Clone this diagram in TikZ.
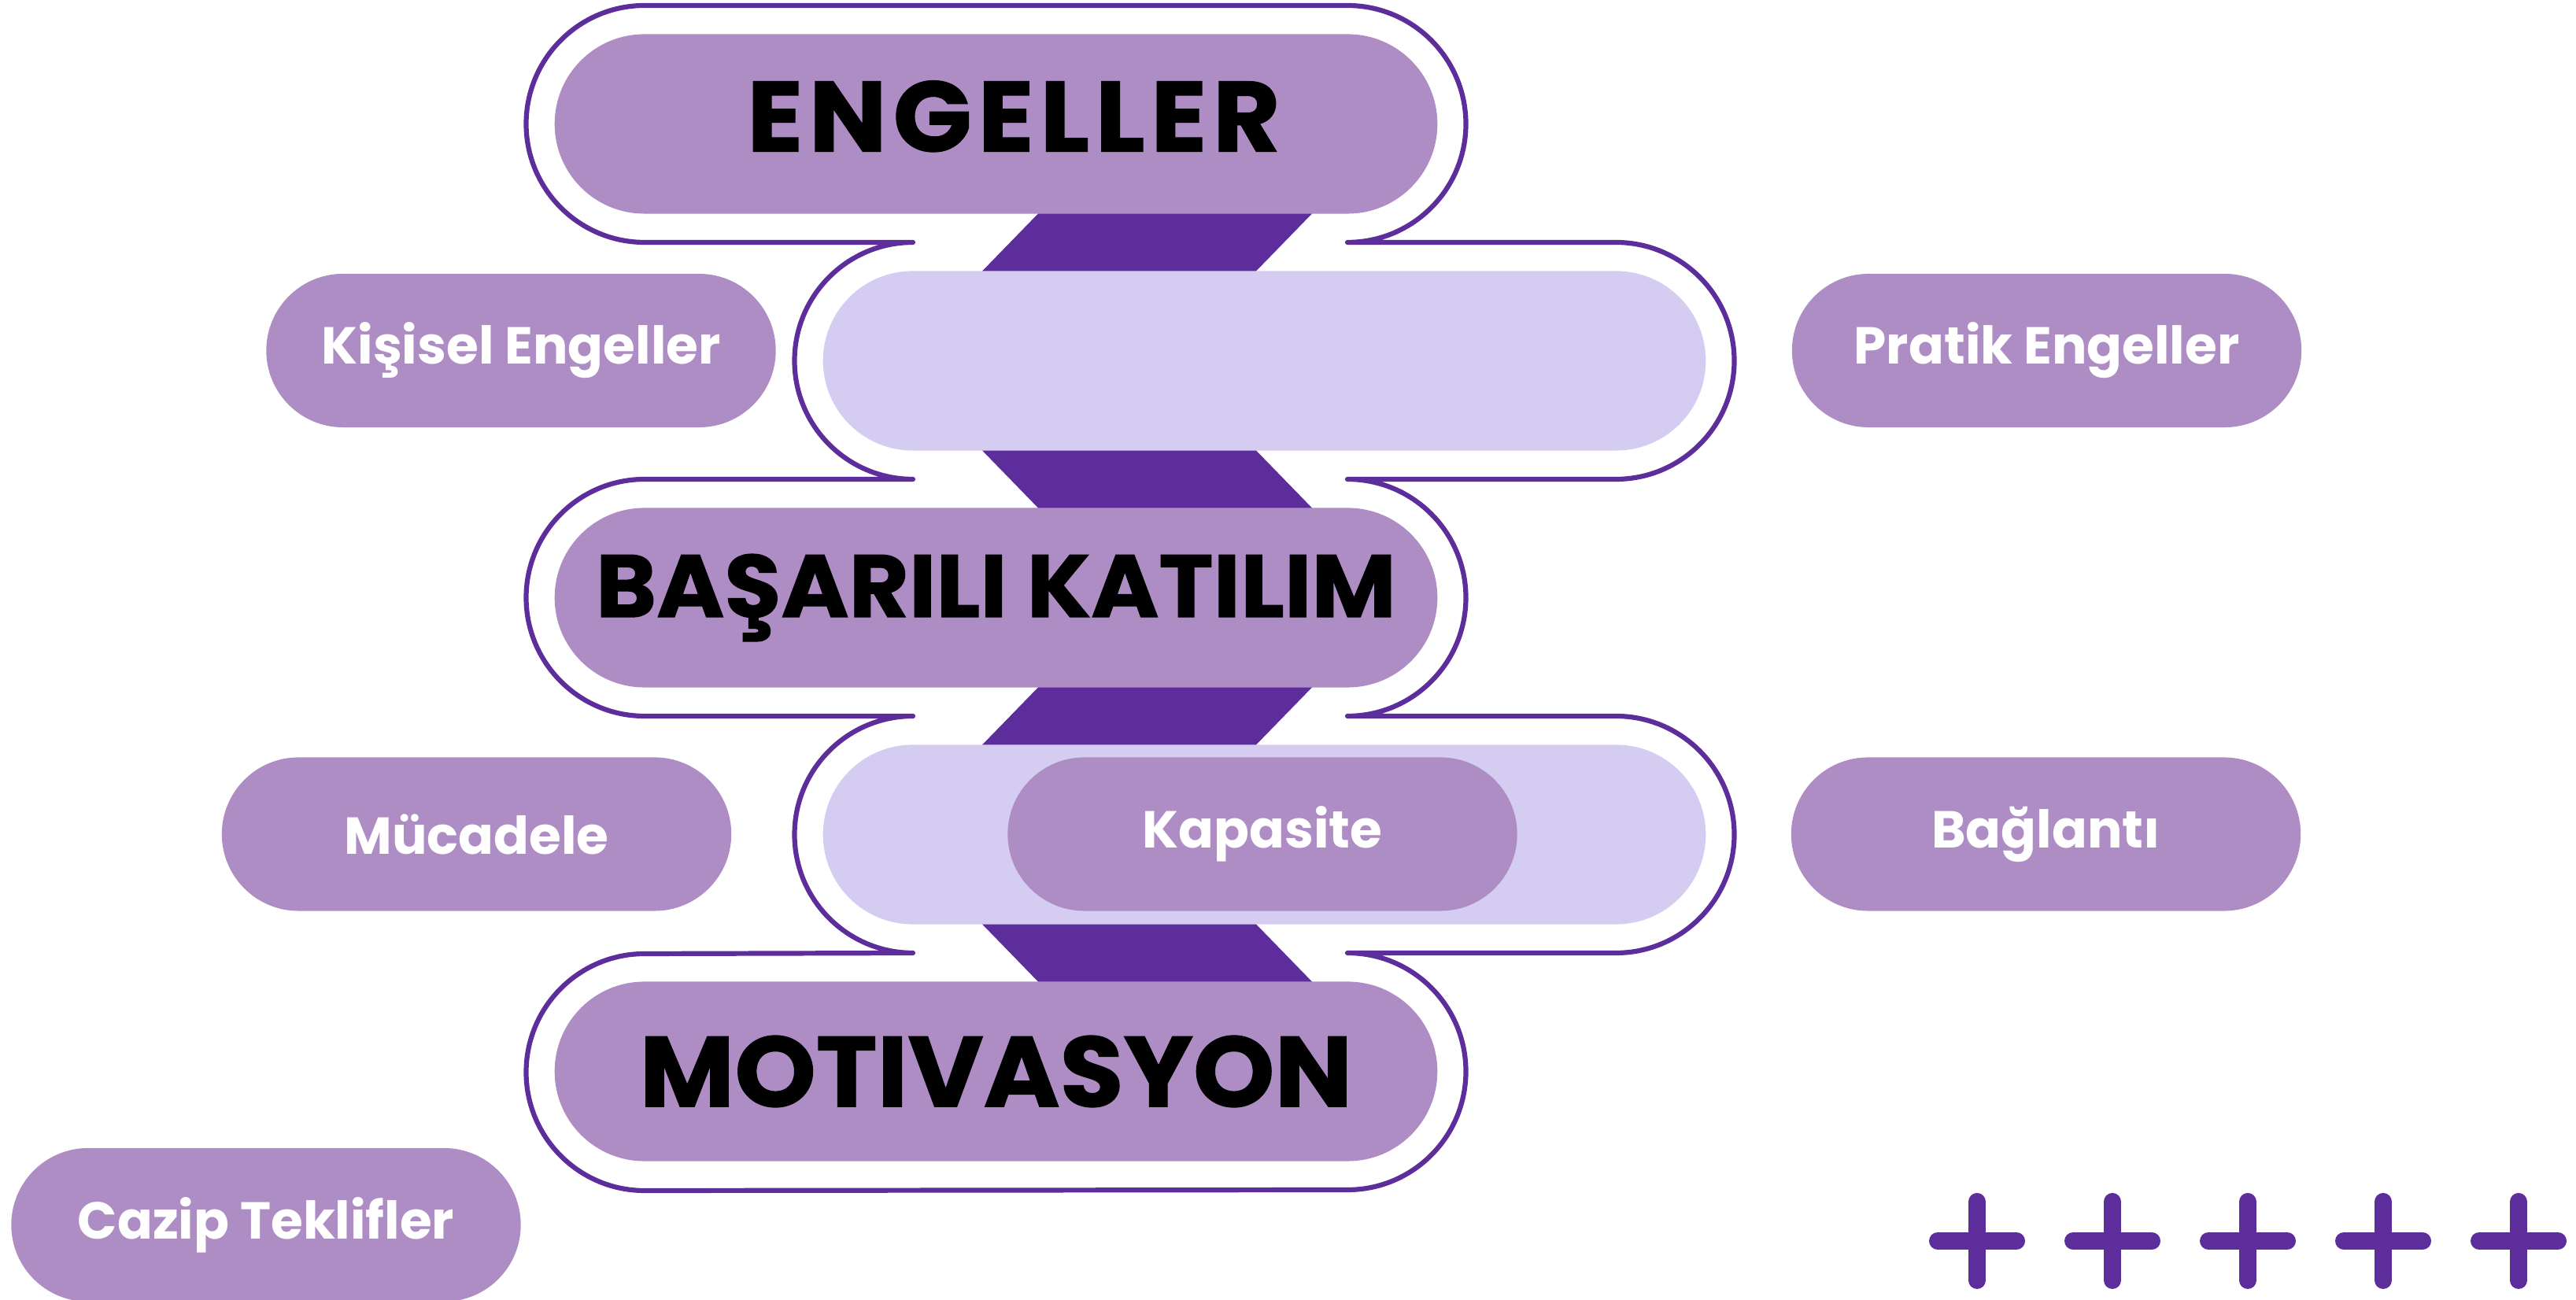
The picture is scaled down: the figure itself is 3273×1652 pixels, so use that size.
\documentclass[tikz,border=0pt]{standalone}
\usepackage{fontspec}
\setmainfont{Poppins}
\newfontfamily\headfont{Poppins}[BoldFeatures={FakeStretch=1.04, FakeBold=1}]
\usetikzlibrary{shapes.misc}

\definecolor{midlilac}{HTML}{AE8DC4}
\definecolor{palelilac}{HTML}{D5CCF2}
\definecolor{deeppurple}{HTML}{5E2D9C}

\tikzset{
  pill/.style={rounded rectangle, fill=midlilac, inner sep=0pt,
    minimum height=1.95cm, minimum width=6.47cm, text=white,
    font=\bfseries\fontsize{18.8}{20}\selectfont},
  bigpill/.style={pill, minimum height=2.28cm, minimum width=11.21cm,
    text=black, font=\headfont\bfseries\fontsize{36}{40}\selectfont},
  palepill/.style={bigpill, fill=palelilac},
}

\begin{document}
\begin{tikzpicture}[x=0.01cm, y=0.01cm]
  \useasboundingbox (0,0) rectangle (3273,1652);
  % zigzag band behind the pills
  \fill [deeppurple] (1319,1494.5) -- (1319,1380.5) -- (1248,1307.5) -- (1248,1079.5)
    -- (1319,1006.5) -- (1319,778.5) -- (1248,705.5) -- (1248,477.5)
    -- (1319,404.5) -- (1319,290.5) -- (1667,290.5) -- (1667,404.5)
    -- (1596,477.5) -- (1596,705.5) -- (1667,778.5) -- (1667,1006.5)
    -- (1596,1079.5) -- (1596,1307.5) -- (1667,1380.5) -- (1667,1494.5) -- cycle;
  % main column
  \node (engeller) at (1265.5,1494.5) [bigpill, text depth=0.2cm] {\hspace*{0.45cm}\addfontfeature{LetterSpace=6}ENGELLER};
  \node (ustbant) at (1606.5,1193.5) [palepill] {};
  \node (basarili) at (1265.5,892.5) [bigpill, font=\headfont\bfseries\fontsize{32}{36}\selectfont] {BAŞARILI KATILIM};
  \node (altbant) at (1606.5,591.5) [palepill] {};
  \node (motivasyon) at (1265.5,290.5) [bigpill] {MOTIVASYON};
  % side labels
  \node (kisisel) at (662,1206.5) [pill] {Kişisel Engeller};
  \node (pratik) at (2600.5,1206.5) [pill] {Pratik Engeller};
  \node (mucadele) at (605.5,592) [pill] {Mücadele};
  \node (kapasite) at (1604,592) [pill] {Kapasite};
  \node (baglanti) at (2599.5,592) [pill] {Bağlantı};
  \node (cazip) at (338,95.5) [pill] {Cazip Teklifler};
  % chain outline
  \draw [deeppurple, line width=0.062cm, line join=round, line cap=round]
    (1160,1344) -- (819,1344) arc [start angle=270, end angle=90, radius=150.5]
    -- (1712,1645) arc [start angle=90, end angle=-90, radius=150.5]
    -- (2053,1344) arc [start angle=90, end angle=-90, radius=150.5]
    -- (1712,1043) arc [start angle=90, end angle=-90, radius=150.5]
    -- (2053,742) arc [start angle=90, end angle=-90, radius=150.5]
    -- (1712,441) arc [start angle=90, end angle=-90, radius=150.5]
    -- (819,139) arc [start angle=270, end angle=90, radius=150.5]
    -- (1160,441) arc [start angle=270, end angle=90, radius=150.5]
    -- (819,742) arc [start angle=270, end angle=90, radius=150.5]
    -- (1160,1043) arc [start angle=270, end angle=90, radius=150.5]
    -- cycle;
  % plus signs
  \foreach \k in {0,...,4}
    \draw [deeppurple, line width=0.22cm, line cap=round]
      (2462+172*\k,75) -- (2562+172*\k,75) (2512+172*\k,25) -- (2512+172*\k,125);
\end{tikzpicture}
\end{document}
